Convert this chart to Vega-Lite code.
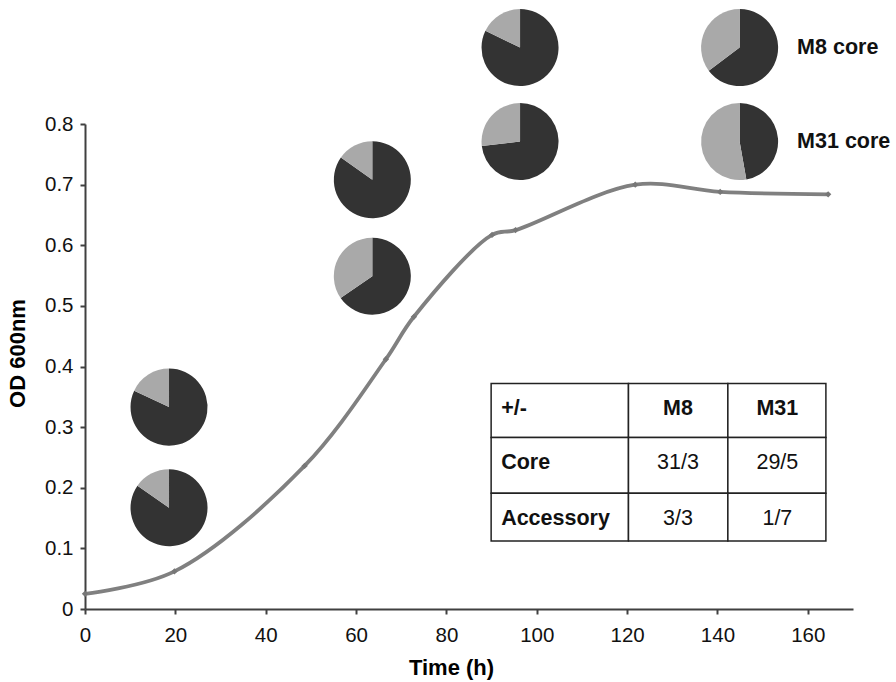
{
  "$schema": "https://vega.github.io/schema/vega-lite/v6.json",
  "autosize": {"type": "none"},
  "width": 768,
  "height": 485,
  "padding": {"left": 85, "top": 124, "right": 43, "bottom": 73},
  "background": "white",
  "config": {
    "view": {"stroke": null},
    "font": "Liberation Sans",
    "axis": {"labelFont": "Liberation Sans", "titleFont": "Liberation Sans"}
  },
  "datasets": {
    "growth": [
      {"time": 0, "od": 0.025},
      {"time": 19.8, "od": 0.062},
      {"time": 48.6, "od": 0.236},
      {"time": 66.6, "od": 0.412},
      {"time": 72.8, "od": 0.482},
      {"time": 90.1, "od": 0.617},
      {"time": 95.3, "od": 0.625},
      {"time": 121.8, "od": 0.7},
      {"time": 140.6, "od": 0.688},
      {"time": 164.5, "od": 0.684}
    ],
    "pies": [
      {"pie": "M8-1", "label": "M8 core", "time": 18.6, "od": 0.333, "part": "present", "share": 0.82},
      {"pie": "M8-1", "label": "M8 core", "time": 18.6, "od": 0.333, "part": "absent", "share": 0.18},
      {"pie": "M31-1", "label": "M31 core", "time": 18.6, "od": 0.167, "part": "present", "share": 0.847},
      {"pie": "M31-1", "label": "M31 core", "time": 18.6, "od": 0.167, "part": "absent", "share": 0.153},
      {"pie": "M8-2", "label": "M8 core", "time": 63.6, "od": 0.708, "part": "present", "share": 0.848},
      {"pie": "M8-2", "label": "M8 core", "time": 63.6, "od": 0.708, "part": "absent", "share": 0.152},
      {"pie": "M31-2", "label": "M31 core", "time": 63.6, "od": 0.549, "part": "present", "share": 0.654},
      {"pie": "M31-2", "label": "M31 core", "time": 63.6, "od": 0.549, "part": "absent", "share": 0.346},
      {"pie": "M8-3", "label": "M8 core", "time": 96.3, "od": 0.926, "part": "present", "share": 0.822},
      {"pie": "M8-3", "label": "M8 core", "time": 96.3, "od": 0.926, "part": "absent", "share": 0.178},
      {"pie": "M31-3", "label": "M31 core", "time": 96.3, "od": 0.771, "part": "present", "share": 0.732},
      {"pie": "M31-3", "label": "M31 core", "time": 96.3, "od": 0.771, "part": "absent", "share": 0.268},
      {"pie": "M8-4", "label": "M8 core", "time": 144.9, "od": 0.926, "part": "present", "share": 0.648},
      {"pie": "M8-4", "label": "M8 core", "time": 144.9, "od": 0.926, "part": "absent", "share": 0.352},
      {"pie": "M31-4", "label": "M31 core", "time": 144.9, "od": 0.771, "part": "present", "share": 0.472},
      {"pie": "M31-4", "label": "M31 core", "time": 144.9, "od": 0.771, "part": "absent", "share": 0.528}
    ],
    "table": [
      {"row": "header", "col": "label", "text": "+/-", "x0": 89.9, "x1": 120.3, "y0": 0.372, "y1": 0.283},
      {"row": "header", "col": "M8", "text": "M8", "x0": 120.3, "x1": 142.3, "y0": 0.372, "y1": 0.283},
      {"row": "header", "col": "M31", "text": "M31", "x0": 142.3, "x1": 164.0, "y0": 0.372, "y1": 0.283},
      {"row": "Core", "col": "label", "text": "Core", "x0": 89.9, "x1": 120.3, "y0": 0.283, "y1": 0.191},
      {"row": "Core", "col": "M8", "text": "31/3", "x0": 120.3, "x1": 142.3, "y0": 0.283, "y1": 0.191},
      {"row": "Core", "col": "M31", "text": "29/5", "x0": 142.3, "x1": 164.0, "y0": 0.283, "y1": 0.191},
      {"row": "Accessory", "col": "label", "text": "Accessory", "x0": 89.9, "x1": 120.3, "y0": 0.191, "y1": 0.112},
      {"row": "Accessory", "col": "M8", "text": "3/3", "x0": 120.3, "x1": 142.3, "y0": 0.191, "y1": 0.112},
      {"row": "Accessory", "col": "M31", "text": "1/7", "x0": 142.3, "x1": 164.0, "y0": 0.191, "y1": 0.112}
    ]
  },
  "layer": [
    {
      "data": {"name": "growth"},
      "mark": {"type": "line", "interpolate": "catmull-rom", "color": "#808080", "strokeWidth": 3.8},
      "encoding": {
        "x": {
          "field": "time", "type": "quantitative",
          "scale": {"domain": [0, 170], "nice": false, "zero": false},
          "axis": {
            "values": [0, 20, 40, 60, 80, 100, 120, 140, 160],
            "title": "Time (h)", "grid": false, "labelFlush": false,
            "domainColor": "#404040", "domainWidth": 2,
            "tickColor": "#404040", "tickWidth": 2, "tickSize": 5,
            "labelFontSize": 20.5, "labelColor": "#111111", "labelPadding": 11,
            "titleFontSize": 22, "titleFontWeight": "bold", "titleColor": "#000000",
            "titlePadding": 12, "titleX": 366
          }
        },
        "y": {
          "field": "od", "type": "quantitative",
          "scale": {"domain": [0, 0.8], "nice": false},
          "axis": {
            "values": [0, 0.1, 0.2, 0.3, 0.4, 0.5, 0.6, 0.7, 0.8],
            "format": ".1~f", "title": "OD 600nm", "grid": false,
            "domainColor": "#404040", "domainWidth": 2,
            "tickColor": "#404040", "tickWidth": 2, "tickSize": 5,
            "labelFontSize": 20.5, "labelColor": "#111111", "labelPadding": 7,
            "titleFontSize": 22, "titleFontWeight": "bold", "titleColor": "#000000",
            "titlePadding": 15, "titleY": 229
          }
        }
      }
    },
    {
      "data": {"name": "growth"},
      "mark": {"type": "point", "shape": "diamond", "filled": true, "color": "#777777", "size": 40, "opacity": 1},
      "encoding": {
        "x": {"field": "time", "type": "quantitative"},
        "y": {"field": "od", "type": "quantitative"}
      }
    },
    {
      "data": {"name": "pies"},
      "transform": [
        {"stack": "share", "groupby": ["pie"], "offset": "normalize", "sort": [{"field": "part", "order": "descending"}], "as": ["s0", "s1"]}
      ],
      "mark": {"type": "arc", "outerRadius": 38.5},
      "encoding": {
        "x": {"field": "time", "type": "quantitative"},
        "y": {"field": "od", "type": "quantitative"},
        "theta": {"field": "s0", "type": "quantitative", "stack": null, "scale": {"domain": [0, 1], "range": [0, 6.283185307179586]}},
        "theta2": {"field": "s1"},
        "color": {"field": "part", "type": "nominal", "scale": {"domain": ["present", "absent"], "range": ["#333333", "#a9a9a9"]}, "legend": null}
      }
    },
    {
      "data": {"name": "pies"},
      "transform": [{"filter": "datum.time > 140 && datum.part === 'present'"}],
      "mark": {"type": "text", "align": "left", "baseline": "middle", "dx": 57.5, "fontSize": 21.5, "fontWeight": "bold", "color": "#111111"},
      "encoding": {
        "x": {"field": "time", "type": "quantitative"},
        "y": {"field": "od", "type": "quantitative"},
        "text": {"field": "label"}
      }
    },
    {
      "data": {"name": "table"},
      "mark": {"type": "rect", "fill": "white", "stroke": "#222222", "strokeWidth": 1.5},
      "encoding": {
        "x": {"field": "x0", "type": "quantitative"},
        "x2": {"field": "x1"},
        "y": {"field": "y0", "type": "quantitative"},
        "y2": {"field": "y1"}
      }
    },
    {
      "data": {"name": "table"},
      "transform": [{"filter": "datum.col === 'label'"}],
      "mark": {"type": "text", "align": "left", "baseline": "alphabetic", "dx": 10, "dy": 32, "fontSize": 21.5, "fontWeight": "bold", "color": "#111111"},
      "encoding": {
        "x": {"field": "x0", "type": "quantitative"},
        "y": {"field": "y0", "type": "quantitative"},
        "text": {"field": "text"}
      }
    },
    {
      "data": {"name": "table"},
      "transform": [{"filter": "datum.col !== 'label' && datum.row === 'header'"}],
      "mark": {"type": "text", "align": "center", "baseline": "alphabetic", "dx": 49.5, "dy": 32, "fontSize": 21.5, "fontWeight": "bold", "color": "#111111"},
      "encoding": {
        "x": {"field": "x0", "type": "quantitative"},
        "y": {"field": "y0", "type": "quantitative"},
        "text": {"field": "text"}
      }
    },
    {
      "data": {"name": "table"},
      "transform": [{"filter": "datum.col !== 'label' && datum.row !== 'header'"}],
      "mark": {"type": "text", "align": "center", "baseline": "alphabetic", "dx": 49.5, "dy": 32, "fontSize": 21.5, "fontWeight": "normal", "color": "#111111"},
      "encoding": {
        "x": {"field": "x0", "type": "quantitative"},
        "y": {"field": "y0", "type": "quantitative"},
        "text": {"field": "text"}
      }
    }
  ]
}
